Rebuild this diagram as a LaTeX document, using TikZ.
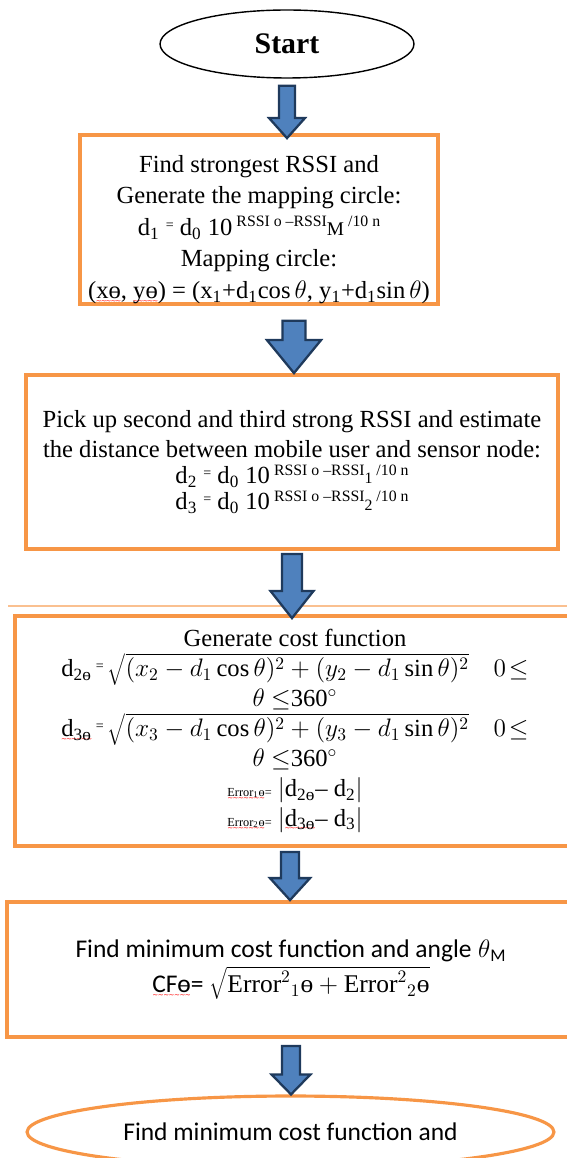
\documentclass[tikz,border=0pt]{standalone}
\usepackage{fontspec}
\setmainfont{Liberation Serif}
\newfontfamily\calibri{Carlito}
\newfontfamily\wavefont{DejaVu Sans}
\usetikzlibrary{calc, shapes.geometric}
\definecolor{FlowOrange}{HTML}{F79646}
\definecolor{RuleOrange}{HTML}{FAC090}
\definecolor{ArrowFill}{HTML}{4F81BD}
\definecolor{ArrowEdge}{HTML}{1F3A5C}

% red squiggle under a word
\newcommand{\spellwave}[1]{\setbox0=\hbox{#1}\rlap{\lower2.6pt\hbox to\wd0{\color{red}\fontsize{4}{4}\wavefont\xleaders\hbox{\kern-0.3pt∼\kern-0.3pt}\hfill}}\box0}
\newcommand{\smalleq}{\raisebox{0.55ex}{\fontsize{8}{8}\selectfont=}}
\newcommand{\rssi}[1]{\raisebox{0.75ex}{\fontsize{9}{9}\selectfont RSSI o \textendash RSSI\raisebox{-1.2ex}{#1} /10 n}}

\begin{document}
\begin{tikzpicture}[
    x=0.02cm, y=-0.02cm,
    stepbox/.style={rectangle, draw=FlowOrange, line width=2.2pt, inner sep=0pt, align=center, font=\fontsize{14}{17}\selectfont},
    terminal/.style={ellipse, inner sep=0pt, align=center},
    fat/.style n args={3}{draw=ArrowEdge, fill=ArrowFill, line width=1.3pt, line join=miter,
        to path={let \p1=(\tikztostart), \p2=(\tikztotarget) in
            (\x1-#1,\y1) -- (\x1-#1,\y2+#3) -- (\x1-#2,\y2+#3) -- (\x1,\y2)
            -- (\x1+#2,\y2+#3) -- (\x1+#1,\y2+#3) -- (\x1+#1,\y1) -- cycle}}
]
\useasboundingbox (0,0) rectangle (567,1158);

\node[terminal, draw=black, line width=0.8pt, minimum width=5.08cm, minimum height=1.36cm,
      font=\fontsize{17}{20}\selectfont\bfseries] (start) at (287,44) {Start};

\node[stepbox, minimum width=7.16cm, minimum height=3.3cm, font=\fontsize{14}{18}\selectfont] (find) at (259,219.5)
    {\rule{0pt}{21pt}Find strongest RSSI and\\
     Generate the mapping circle:\\
     d\textsubscript{1} \smalleq{} d\textsubscript{0} 10\,\rssi{\fontsize{11}{11}\selectfont M}\\
     Mapping circle:\\
     (\spellwave{xɵ}, \spellwave{yɵ}) = (x\textsubscript{1}+d\textsubscript{1}cos\,$\theta$, y\textsubscript{1}+d\textsubscript{1}sin\,$\theta$)};

\node[stepbox, minimum width=10.64cm, minimum height=3.48cm] (pick) at (292,462)
    {Pick up second and third strong RSSI and estimate\\
     the distance between mobile user and sensor node:\\[-2pt]
     d\textsubscript{2} \smalleq{} d\textsubscript{0} 10\,\rssi{1}\\[-2pt]
     d\textsubscript{3} \smalleq{} d\textsubscript{0} 10\,\rssi{2}};

% stray rule above the cost box
\draw[RuleOrange, line width=0.8pt] (8,606) -- (567,606);

\node[stepbox, minimum width=11.2cm, minimum height=4.6cm] (cost) at (295,731)
    {Generate cost function\\
     d\textsubscript{2ɵ}\,\smalleq\,$\sqrt{(x_2 - d_1\cos\theta)^2 + (y_2 - d_1\sin\theta)^2}$\quad$0\!\leq$\\
     $\theta$ $\leq$360$^\circ$\\
     \spellwave{d\textsubscript{3ɵ}}\,\smalleq\,$\sqrt{(x_3 - d_1\cos\theta)^2 + (y_3 - d_1\sin\theta)^2}$\quad$0\!\leq$\\
     $\theta$ $\leq$360$^\circ$\\
     {\fontsize{7}{8}\selectfont\spellwave{Error\textsubscript{1}ɵ} =} $\bigl|$d\textsubscript{2ɵ}\textendash{} d\textsubscript{2}$\bigr|$\\
     {\fontsize{7}{8}\selectfont\spellwave{Error\textsubscript{2}ɵ} =} $\bigl|$\spellwave{d\textsubscript{3ɵ}}\textendash{} d\textsubscript{3}$\bigr|$};

\node[stepbox, minimum width=11.36cm, minimum height=2.7cm, font=\fontsize{14.5}{20}\selectfont] (minimum) at (291,969.5)
    {{\calibri Find minimum cost function and angle} $\theta$\textsubscript{\calibri M}\\
     {\calibri\spellwave{CFɵ} =} $\sqrt{\mbox{Error}^2{}_1\mbox{ɵ} + \mbox{Error}^2{}_2\mbox{ɵ}}$};

\node[terminal, draw=FlowOrange, line width=1.8pt, minimum width=10.54cm, minimum height=1.44cm,
      font=\fontsize{14.5}{17}\selectfont\calibri] (finish) at (290.5,1132) {Find minimum cost function and};

% block arrows between the steps
\draw[fat={4.5pt}{10.2pt}{11.4pt}] ([yshift=-4pt]start.south) to ([yshift=-2.8pt]find.north);
\draw[fat={6.5pt}{15.4pt}{18.8pt}] ([xshift=0.7cm,yshift=-8.5pt]find.south) to (pick.north);
\draw[fat={5.7pt}{12.2pt}{15.4pt}] ([yshift=-1.7pt]pick.south) to ([yshift=-2.3pt]cost.north);
\draw[fat={5.1pt}{11.4pt}{12.5pt}] ([xshift=-0.1cm,yshift=-2.3pt]cost.south) to (minimum.north);
\draw[fat={5.1pt}{11.1pt}{11.4pt}] ([yshift=-4pt]minimum.south) to (finish.north);
\end{tikzpicture}
\end{document}
